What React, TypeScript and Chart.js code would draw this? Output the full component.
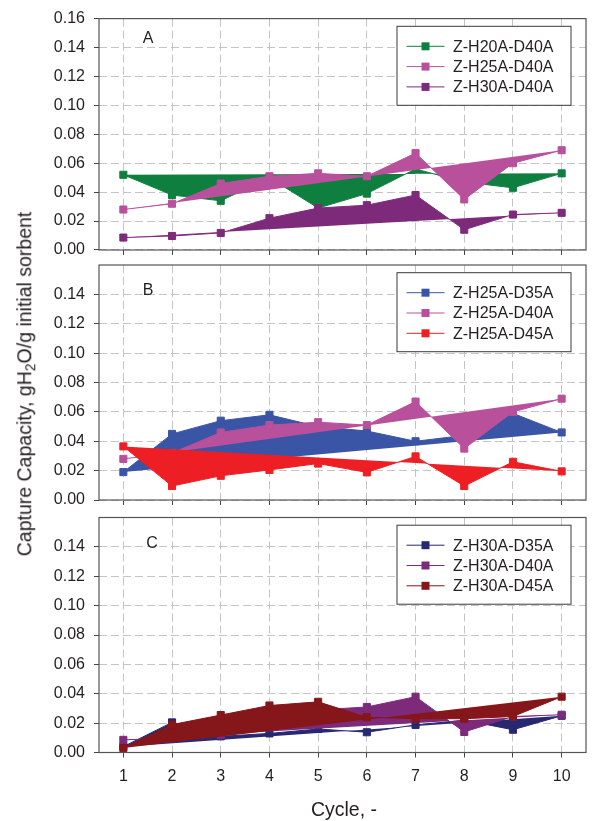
import React, { useEffect, useRef } from 'react';
import { Chart, registerables } from 'chart.js';

Chart.register(...registerables);

// ---- data ----
const cycles = ['1', '2', '3', '4', '5', '6', '7', '8', '9', '10'];
const yTicks = [0, 0.02, 0.04, 0.06, 0.08, 0.1, 0.12, 0.14, 0.16];

const zH20A_D40A = [0.052, 0.038, 0.034, 0.05, 0.029, 0.039, 0.056, 0.047, 0.043, 0.053];
const zH25A_D40A = [0.028, 0.032, 0.046, 0.051, 0.053, 0.051, 0.067, 0.035, 0.06, 0.069];
const zH30A_D40A = [0.0086, 0.0097, 0.0118, 0.022, 0.029, 0.031, 0.038, 0.014, 0.0245, 0.0257];
const zH25A_D35A = [0.019, 0.045, 0.054, 0.058, 0.05, 0.047, 0.04, 0.044, 0.059, 0.046];
const zH25A_D45A = [0.0365, 0.0095, 0.0165, 0.0205, 0.0248, 0.0188, 0.0297, 0.0095, 0.026, 0.0195];
const zH30A_D35A = [0.004, 0.0205, 0.011, 0.013, 0.016, 0.0138, 0.0188, 0.022, 0.0155, 0.025];
const zH30A_D45A = [0.003, 0.019, 0.0255, 0.032, 0.0345, 0.024, 0.023, 0.023, 0.0245, 0.038];

const C_GREEN = '#0f7f3f';
const C_PINK = '#b8509c';
const C_PURPLE = '#7e2a7b';
const C_BLUE = '#3a55a5';
const C_RED = '#ed1f24';
const C_NAVY = '#262872';
const C_DARKRED = '#85161a';

const TEXT = '#231f20';
const FONT = "'Liberation Sans', Arial, sans-serif";

type Series = { label: string; data: number[]; color: string };
type Panel = {
  series: Series[];
  top: number;
  bottom: number;
  showX: boolean;
  showTop: boolean;
  letter: string;
  letterX: number;
  letterY: number;
};

const panels: Panel[] = [
  {
    series: [
      { label: 'Z-H20A-D40A', data: zH20A_D40A, color: C_GREEN },
      { label: 'Z-H25A-D40A', data: zH25A_D40A, color: C_PINK },
      { label: 'Z-H30A-D40A', data: zH30A_D40A, color: C_PURPLE },
    ],
    top: 15, bottom: 250, showX: false, showTop: true, letter: 'A', letterX: 148, letterY: 43.3,
  },
  {
    series: [
      { label: 'Z-H25A-D35A', data: zH25A_D35A, color: C_BLUE },
      { label: 'Z-H25A-D40A', data: zH25A_D40A, color: C_PINK },
      { label: 'Z-H25A-D45A', data: zH25A_D45A, color: C_RED },
    ],
    top: 265, bottom: 500, showX: false, showTop: false, letter: 'B', letterX: 148, letterY: 295,
  },
  {
    series: [
      { label: 'Z-H30A-D35A', data: zH30A_D35A, color: C_NAVY },
      { label: 'Z-H30A-D40A', data: zH30A_D40A, color: C_PURPLE },
      { label: 'Z-H30A-D45A', data: zH30A_D45A, color: C_DARKRED },
    ],
    top: 517.5, bottom: 752.5, showX: true, showTop: false, letter: 'C', letterX: 152, letterY: 548,
  },
];

const decorPlugin = {
  id: 'panelDecor',
  afterDraw(chart: any, _args: any, opts: any) {
    const ctx = chart.ctx;
    const a = chart.chartArea;
    ctx.save();
    // frame
    ctx.strokeStyle = '#555';
    ctx.lineWidth = 1.2;
    ctx.setLineDash([]);
    ctx.strokeRect(a.left, a.top, a.right - a.left, a.bottom - a.top);
    // panel letter
    ctx.fillStyle = TEXT;
    ctx.font = `16px ${FONT}`;
    ctx.textAlign = 'center';
    ctx.textBaseline = 'alphabetic';
    ctx.fillText(opts.letter, opts.letterX, opts.letterY);
    // legend
    const w = 174, h = 79;
    const lx = a.right - 15 - w;
    const ly = a.top + 7.7;
    ctx.fillStyle = '#ffffff';
    ctx.fillRect(lx, ly, w, h);
    ctx.strokeStyle = '#3a3a3a';
    ctx.lineWidth = 1;
    ctx.strokeRect(lx, ly, w, h);
    const ds = chart.data.datasets;
    ds.forEach((d: any, i: number) => {
      const cy = ly + 20 + i * 20.3;
      ctx.strokeStyle = d.borderColor;
      ctx.lineWidth = 1;
      ctx.beginPath();
      ctx.moveTo(lx + 9.5, cy);
      ctx.lineTo(lx + 47.5, cy);
      ctx.stroke();
      ctx.fillStyle = d.borderColor;
      ctx.fillRect(lx + 28.5 - 4, cy - 4, 8, 8);
      ctx.fillStyle = TEXT;
      ctx.font = `16px ${FONT}`;
      ctx.textAlign = 'left';
      ctx.textBaseline = 'middle';
      ctx.fillText(d.label, lx + 56, cy + 1);
    });
    ctx.restore();
  },
};

function makeConfig(p: Panel): any {
  const xh = p.showX ? 40 : 10;
  const n = p.series.length;
  const ticksForPanel = p.showTop ? yTicks : yTicks.filter((v) => v < 0.159);
  return {
    type: 'line',
    data: {
      labels: cycles,
      datasets: p.series.map((s, i) => ({
        label: s.label,
        data: s.data,
        borderColor: s.color,
        backgroundColor: s.color,
        pointBackgroundColor: s.color,
        pointBorderColor: s.color,
        pointStyle: 'rect',
        pointRadius: 5,
        pointHoverRadius: 5,
        pointBorderWidth: 1,
        borderWidth: 1,
        tension: 0,
        fill: 'shape',
        order: n - 1 - i,
      })),
    },
    options: {
      responsive: false,
      maintainAspectRatio: false,
      animation: false,
      events: [],
      layout: { padding: { top: p.top, left: 0, right: 2, bottom: 821 - p.bottom - xh } },
      plugins: {
        legend: { display: false },
        tooltip: { enabled: false },
        panelDecor: { letter: p.letter, letterX: p.letterX, letterY: p.letterY },
      },
      scales: {
        x: {
          type: 'category',
          offset: true,
          afterFit: (s: any) => { s.height = xh; },
          grid: {
            color: '#c4c4c4',
            lineWidth: 1,
            offset: false,
            drawTicks: true,
            tickLength: 5,
            tickColor: '#444',
            tickWidth: 1,
            tickBorderDash: [],
            borderDash: [8, 4],
          },
          border: { display: false, dash: [8, 4] },
          ticks: {
            display: p.showX,
            color: TEXT,
            font: { family: FONT, size: 16 },
            padding: 9,
            maxRotation: 0,
            autoSkip: false,
          },
        },
        y: {
          min: 0,
          max: 0.16,
          afterFit: (s: any) => { s.width = 99; },
          afterBuildTicks: (s: any) => { s.ticks = ticksForPanel.map((v) => ({ value: v })); },
          grid: {
            color: '#c4c4c4',
            lineWidth: 1,
            drawTicks: true,
            tickLength: 5,
            tickColor: '#444',
            tickWidth: 1,
            tickBorderDash: [],
            borderDash: [8, 4],
          },
          border: { display: false, dash: [8, 4] },
          ticks: {
            color: TEXT,
            font: { family: FONT, size: 16 },
            padding: 9,
            callback: (v: any) => Number(v).toFixed(2),
          },
        },
      },
    },
    plugins: [decorPlugin],
  };
}

export default function App() {
  const r0 = useRef<HTMLCanvasElement>(null);
  const r1 = useRef<HTMLCanvasElement>(null);
  const r2 = useRef<HTMLCanvasElement>(null);

  useEffect(() => {
    const refs = [r0, r1, r2];
    const charts = refs.map((r, i) => new Chart(r.current as HTMLCanvasElement, makeConfig(panels[i])));
    return () => charts.forEach((c) => c.destroy());
  }, []);

  const canvasStyle: React.CSSProperties = { position: 'absolute', left: 0, top: 0, width: 592, height: 821 };

  return (
    <div style={{ position: 'absolute', left: 0, top: 0, width: 592, height: 821, background: '#fff', overflow: 'hidden' }}>
      <canvas ref={r0} width={592} height={821} style={canvasStyle} />
      <canvas ref={r1} width={592} height={821} style={canvasStyle} />
      <canvas ref={r2} width={592} height={821} style={canvasStyle} />
      <div
        style={{
          position: 'absolute',
          left: 25.25,
          top: 384,
          transform: 'translate(-50%, -50%) rotate(-90deg)',
          whiteSpace: 'nowrap',
          fontFamily: FONT,
          fontSize: 19.5,
          lineHeight: 1,
          color: TEXT,
        }}
      >
        Capture Capacity, gH
        <span style={{ fontSize: '0.72em', position: 'relative', top: '0.3em', lineHeight: 0 }}>2</span>
        O/g initial sorbent
      </div>
      <div
        style={{
          position: 'absolute',
          left: 344,
          top: 799.5,
          transform: 'translateX(-50%)',
          whiteSpace: 'nowrap',
          fontFamily: FONT,
          fontSize: 19.5,
          lineHeight: 1,
          color: TEXT,
        }}
      >
        Cycle, -
      </div>
    </div>
  );
}
